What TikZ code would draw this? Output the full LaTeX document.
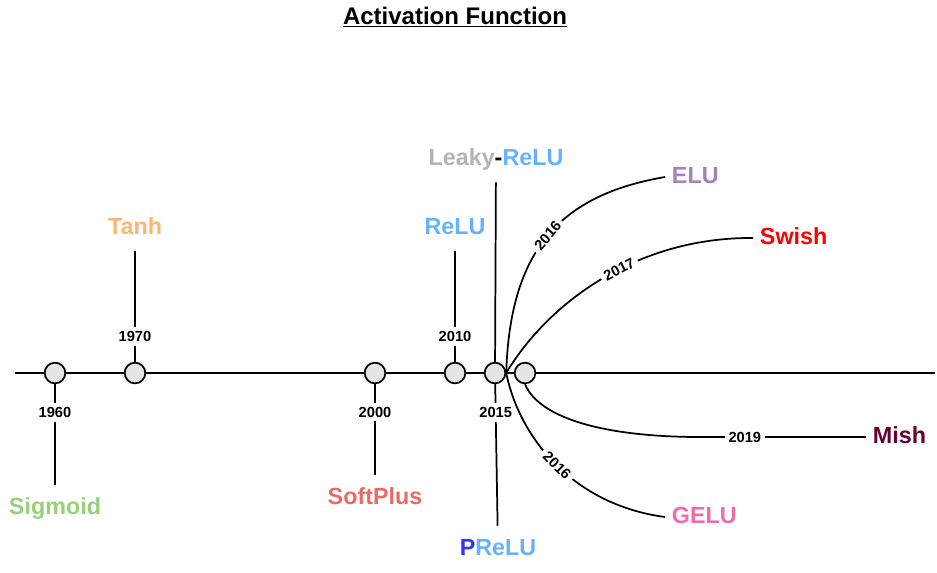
\documentclass[tikz,border=0pt]{standalone}
\usepackage{fontspec}
\setmainfont{Liberation Sans}
\usetikzlibrary{positioning,calc}
\definecolor{sigcol}{HTML}{97D077}
\definecolor{tanhcol}{HTML}{FFB570}
\definecolor{softcol}{HTML}{EA6B66}
\definecolor{relucol}{HTML}{66B2FF}
\definecolor{leakycol}{HTML}{B3B3B3}
\definecolor{pcol}{HTML}{3333FF}
\definecolor{elucol}{HTML}{A680B8}
\definecolor{swishcol}{HTML}{FF0000}
\definecolor{mishcol}{HTML}{660033}
\definecolor{gelucol}{HTML}{F06BAE}
\tikzset{
  link/.style={line width=1.3pt},
  dot/.style={circle,draw=black,line width=1.3pt,fill=black!10,minimum size=15.5pt,
              inner sep=0pt},
  yr/.style={fill=white,inner sep=3pt,font=\fontsize{11}{12}\selectfont\bfseries},
  fname/.style={font=\fontsize{17.5}{20}\selectfont\bfseries,text height=13pt,
                text depth=3.5pt,inner xsep=5pt,inner ysep=9pt}
}
\begin{document}
\begin{tikzpicture}[x=0.75pt,y=-0.75pt]
\useasboundingbox (0,0) rectangle (937,572);
\node[font=\fontsize{18}{22}\selectfont\bfseries] (title) at (455,17) {\underline{Activation Function}};

\coordinate (tl0) at (15,373);
\coordinate (tl1) at (935,373);
\node[dot] (c60) at (55,373) {};
\node[dot] (c70) at (135,373) {};
\node[dot] (c00) at (375,373) {};
\node[dot] (c10) at (455,373) {};
\node[dot] (c15) at (495,373) {};
\node[dot] (c26) at (525,373) {};

\node[fname,text=sigcol] (sig) at (55,508) {Sigmoid};
\node[fname,text=tanhcol] (tanh) at (135,228) {Tanh};
\node[fname,text=softcol] (soft) at (375,498) {SoftPlus};
\node[fname,text=relucol] (relu) at (455,228) {ReLU};
\node[fname] (leaky) at (496,159) {\textcolor{leakycol}{Leaky}-\textcolor{relucol}{ReLU}};
\node[fname] (prelu) at (498,549) {\textcolor{pcol}{P}\textcolor{relucol}{ReLU}};
\node[fname,text=elucol,anchor=west] (elu) at (665,177) {ELU};
\node[fname,text=swishcol,anchor=west] (swish) at (753,238) {Swish};
\node[fname,text=mishcol,anchor=west] (mish) at (866,437) {Mish};
\node[fname,text=gelucol,anchor=west] (gelu) at (665,517) {GELU};

\draw[link] (tl0) -- (c60) -- (c70) -- (c00) -- (c10) -- (c15) -- (c26) -- (tl1);
\draw[link] (c60) -- node[yr,pos=0.28]{1960} (sig);
\draw[link] (c70) -- node[yr,pos=0.23]{1970} (tanh);
\draw[link] (c00) -- node[yr,pos=0.31]{2000} (soft);
\draw[link] (c10) -- node[yr,pos=0.23]{2010} (relu);
\draw[link] (leaky) -- (c15) -- node[yr,pos=0.2]{2015} (prelu);

\draw[link] (c15.east) .. controls (510,250) and (560,195) .. node[yr,sloped,pos=0.5]{2016} (elu.west);
\draw[link] (c15.east) .. controls (550,300) and (640,237) .. node[yr,sloped,pos=0.56]{2017} (swish.west);
\draw[link] (c15.east) .. controls (520,440) and (575,505) .. node[yr,sloped,pos=0.5]{2016} (gelu.west);
\draw[link] (c26.south) .. controls (540,420) and (610,437) .. (700,437)
  -- node[yr,pos=0.27]{2019} (mish.west);
\end{tikzpicture}
\end{document}
